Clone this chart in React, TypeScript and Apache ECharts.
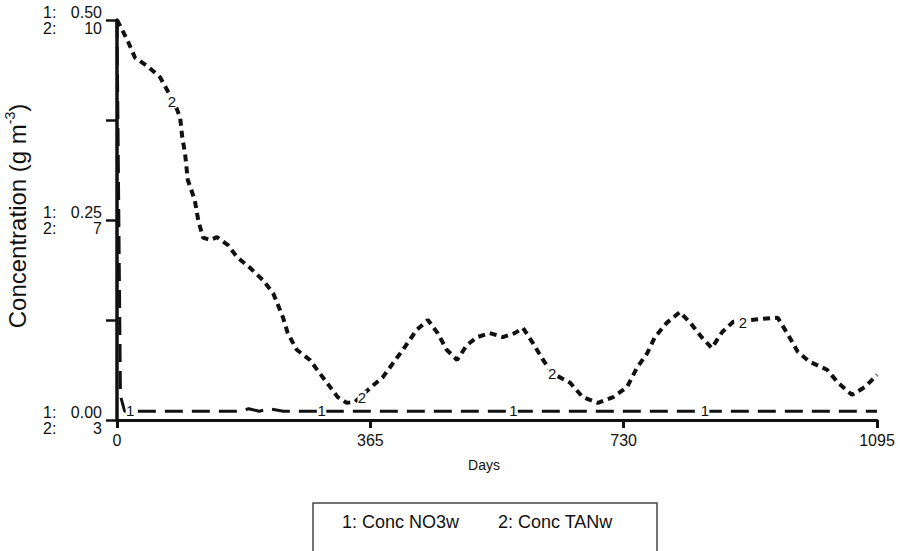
import React, { useEffect, useRef } from "react";
import * as echarts from "echarts";

// Simulation output over three years (days)
const tanDays = [
  0, 4, 16, 26, 45, 62, 72, 84, 91, 94, 98, 102, 112, 117, 124, 134, 144, 160,
  173, 192, 210, 225, 239, 246, 259, 278, 292, 307, 318, 331, 343, 362, 383,
  398, 412, 432, 448, 462, 475, 490, 504, 519, 537, 556, 573, 585, 599, 614,
  627, 653, 671, 693, 715, 735, 749, 764, 775, 792, 811, 826, 843, 857, 872,
  888, 931, 952, 967, 981, 998, 1023, 1039, 1059, 1078, 1095,
];
const tanValues = [
  10.0, 9.91, 9.62, 9.34, 9.18, 9.0, 8.78, 8.51, 8.29, 7.95, 7.67, 7.2, 6.85,
  6.5, 6.19, 6.15, 6.2, 6.06, 5.85, 5.66, 5.45, 5.22, 4.8, 4.52, 4.23, 4.05,
  3.82, 3.58, 3.4, 3.3, 3.32, 3.53, 3.75, 4.0, 4.23, 4.58, 4.75, 4.52, 4.23,
  4.05, 4.31, 4.45, 4.52, 4.45, 4.52, 4.61, 4.35, 4.05, 3.82, 3.65, 3.4, 3.3,
  3.4, 3.58, 3.91, 4.17, 4.45, 4.7, 4.89, 4.7, 4.44, 4.26, 4.54, 4.72, 4.77,
  4.79, 4.49, 4.19, 4.02, 3.88, 3.65, 3.44, 3.58, 3.79,
];

const no3Days = [0, 5, 11, 175, 190, 205, 220, 240, 1095];
const no3Values = [0.5, 0.03, 0.011, 0.011, 0.014, 0.011, 0.014, 0.011, 0.011];

// Where the series numbers sit along each curve
const no3MarkerDays = [19, 295, 571, 847];
const no3MarkerValue = 0.012;
const tanMarkerDays = [79, 353, 627, 902];
const tanMarkerValues = [8.57, 3.4, 3.82, 4.7];

// Axis tick labels
const dayTicks = [0, 365, 730, 1095];
const no3TickLabels = ["0.00", "0.25", "0.50"];
const tanTickLabels = ["3", "7", "10"];

const seriesNames = ["1: Conc NO3w", "2: Conc TANw"];

const FONT = "'Liberation Sans', Arial, Helvetica, sans-serif";
const INK = "#111";

export default function App() {
  const ref = useRef<HTMLDivElement>(null);

  useEffect(() => {
    if (!ref.current) return;
    const chart = echarts.init(ref.current, undefined, { renderer: "svg" });

    const no3Data = no3Days.map((d, i) => [d, no3Values[i]]);
    const tanData = tanDays.map((d, i) => [d, tanValues[i]]);

    const markerStyle = (text: string) => ({
      symbol: "rect",
      symbolSize: [9, 13],
      itemStyle: { color: "#fff" },
      label: {
        show: true,
        position: "inside",
        formatter: text,
        color: INK,
        fontFamily: FONT,
        fontSize: 15,
      },
    });

    const labelText = { fontSize: 16, lineHeight: 16, color: INK, fontFamily: FONT };

    chart.setOption({
      animation: false,
      backgroundColor: "#fff",
      textStyle: { fontFamily: FONT, color: INK },
      grid: {
        left: 117,
        right: 23,
        top: 20,
        bottom: 131,
        containLabel: false,
        outerBoundsMode: "none",
      },
      xAxis: {
        type: "value",
        min: 0,
        max: 1095,
        interval: 365,
        name: "Days",
        nameLocation: "middle",
        nameGap: 38,
        nameTextStyle: { fontSize: 14, color: INK, padding: [0, 26, 0, 0] },
        axisLine: { show: true, onZero: false, lineStyle: { color: INK, width: 3 } },
        axisTick: { show: true, inside: false, length: 8, lineStyle: { color: INK, width: 3 } },
        axisLabel: {
          margin: 12,
          fontSize: 16,
          color: INK,
          formatter: (v: number) => (dayTicks.includes(v) ? String(v) : ""),
        },
        splitLine: { show: false },
      },
      yAxis: [
        {
          // NO3 scale: axis line, ticks and the right-aligned values
          type: "value",
          min: 0,
          max: 0.5,
          interval: 0.125,
          position: "left",
          name: "{t|Concentration (g m}{s|-3}{t|)}",
          nameLocation: "middle",
          nameRotate: 90,
          nameGap: 86,
          nameTextStyle: {
            padding: [0, 0, 0, 8],
            rich: {
              t: { fontSize: 24, color: INK, fontFamily: FONT, lineHeight: 28 },
              s: { fontSize: 14, color: INK, fontFamily: FONT, verticalAlign: "top", lineHeight: 28 },
            },
          },
          axisLine: { show: true, onZero: false, lineStyle: { color: INK, width: 3.5 } },
          axisTick: { show: true, inside: false, length: 11, lineStyle: { color: INK, width: 2.5 } },
          axisLabel: {
            margin: 15,
            align: "right",
            ...labelText,
            formatter: (_v: number, idx: number) =>
              idx % 2 === 0 ? `${no3TickLabels[idx / 2]}\n${tanTickLabels[idx / 2]}` : "",
          },
          splitLine: { show: false },
        },
        {
          // TAN scale (shares the left axis)
          type: "value",
          min: 3,
          max: 10,
          show: false,
          splitLine: { show: false },
        },
        {
          // series numbers in front of the scale values
          type: "value",
          min: 0,
          max: 0.5,
          interval: 0.125,
          position: "left",
          axisLine: { show: false },
          axisTick: { show: false },
          splitLine: { show: false },
          axisLabel: {
            margin: 74,
            align: "left",
            ...labelText,
            formatter: (_v: number, idx: number) => (idx % 2 === 0 ? "1:\n2:" : ""),
          },
        },
      ],
      series: [
        {
          name: seriesNames[0],
          type: "line",
          yAxisIndex: 0,
          data: no3Data,
          showSymbol: false,
          symbol: "none",
          lineStyle: { color: INK, width: 3, type: [18, 9] },
          z: 3,
          markPoint: {
            ...markerStyle("1"),
            data: no3MarkerDays.map((d) => ({ coord: [d, no3MarkerValue] })),
          },
        },
        {
          name: seriesNames[1],
          type: "line",
          yAxisIndex: 1,
          data: tanData,
          showSymbol: false,
          symbol: "none",
          lineStyle: { color: INK, width: 4, type: [7, 5] },
          z: 2,
          markPoint: {
            ...markerStyle("2"),
            data: tanMarkerDays.map((d, i) => ({ coord: [d, tanMarkerValues[i]] })),
          },
        },
      ],
      graphic: [
        {
          type: "rect",
          shape: { x: 313, y: 503, width: 344, height: 70 },
          style: { fill: "none", stroke: "#444", lineWidth: 1.5 },
        },
        {
          type: "text",
          x: 342,
          y: 522,
          style: {
            text: seriesNames[0],
            fill: INK,
            font: `18px ${FONT}`,
            verticalAlign: "middle",
          },
        },
        {
          type: "text",
          x: 498,
          y: 522,
          style: {
            text: seriesNames[1],
            fill: INK,
            font: `18px ${FONT}`,
            verticalAlign: "middle",
          },
        },
      ],
    });

    return () => chart.dispose();
  }, []);

  return (
    <div
      ref={ref}
      style={{ position: "fixed", left: 0, top: 0, width: 900, height: 551, background: "#fff" }}
    />
  );
}
